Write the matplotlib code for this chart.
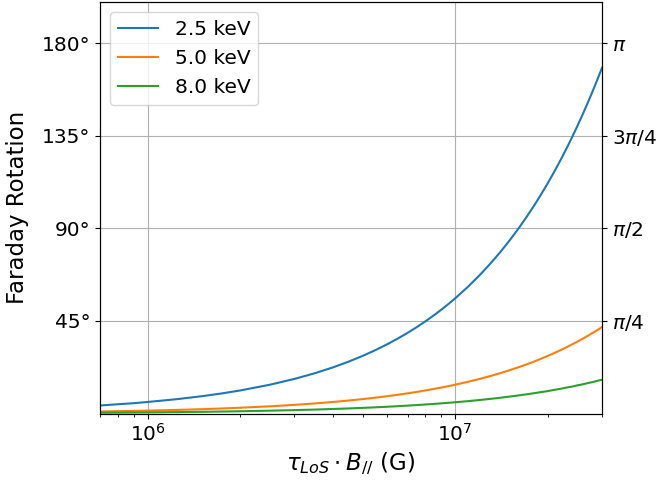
import matplotlib
matplotlib.use("Agg")
import matplotlib.pyplot as plt

# Column density x field (G) sample points
x_vals = [7.0e5, 7.5e5, 8.0e5, 9.0e5, 1.0e6, 1.25e6, 1.5e6, 1.75e6, 2.0e6, 2.5e6,
          3.0e6, 3.5e6, 4.0e6, 4.5e6, 5.0e6, 5.5e6, 6.0e6, 6.5e6, 7.0e6, 7.5e6,
          8.0e6, 8.5e6, 9.0e6, 9.5e6, 1.0e7, 1.1e7, 1.2e7, 1.3e7, 1.4e7, 1.5e7,
          1.6e7, 1.7e7, 1.8e7, 1.9e7, 2.0e7, 2.1e7, 2.2e7, 2.3e7, 2.4e7, 2.5e7,
          2.6e7, 2.7e7, 2.8e7, 2.9e7, 3.0e7]
# Faraday rotation (degrees)
rot_2p5 = [3.9, 4.2, 4.5, 5.0, 5.6, 7.0, 8.4, 9.8, 11.2, 14.0,
           16.8, 19.6, 22.4, 25.2, 28.0, 30.8, 33.6, 36.4, 39.2, 42.0,
           44.8, 47.6, 50.4, 53.2, 56.0, 61.6, 67.2, 72.8, 78.4, 84.0,
           89.6, 95.2, 100.8, 106.4, 112.0, 117.6, 123.2, 128.8, 134.4, 140.0,
           145.6, 151.2, 156.8, 162.4, 168.0]
rot_5p0 = [0.98, 1.05, 1.12, 1.26, 1.4, 1.75, 2.1, 2.45, 2.8, 3.5,
           4.2, 4.9, 5.6, 6.3, 7.0, 7.7, 8.4, 9.1, 9.8, 10.5,
           11.2, 11.9, 12.6, 13.3, 14.0, 15.4, 16.8, 18.2, 19.6, 21.0,
           22.4, 23.8, 25.2, 26.6, 28.0, 29.4, 30.8, 32.2, 33.6, 35.0,
           36.4, 37.8, 39.2, 40.6, 42.0]
rot_8p0 = [0.38, 0.41, 0.44, 0.49, 0.55, 0.68, 0.82, 0.96, 1.09, 1.37,
           1.64, 1.91, 2.19, 2.46, 2.73, 3.0, 3.28, 3.55, 3.83, 4.1,
           4.38, 4.65, 4.92, 5.2, 5.47, 6.0, 6.56, 7.1, 7.66, 8.2,
           8.75, 9.3, 9.84, 10.4, 10.9, 11.5, 12.0, 12.6, 13.1, 13.7,
           14.2, 14.8, 15.3, 15.9, 16.4]
labels = ["2.5 keV", "5.0 keV", "8.0 keV"]

left_ticks = [45, 90, 135, 180]
left_labels = ["45°", "90°", "135°", "180°"]
right_labels = [r"$\pi/4$", r"$\pi/2$", r"$3\pi/4$", r"$\pi$"]

fig = plt.figure(figsize=(6.57, 4.82), dpi=100)
ax = fig.add_axes([100/657, 1 - 413.5/482, (602-100)/657, (413.5-2)/482])

for y, lab in zip([rot_2p5, rot_5p0, rot_8p0], labels):
    ax.plot(x_vals, y, label=lab, lw=1.5)

ax.set_xscale("log")
ax.set_xlim(7e5, 3e7)
ax.set_ylim(0, 200)
ax.set_yticks(left_ticks)
ax.set_yticklabels(left_labels)
ax.tick_params(labelsize=14.5)
ax.grid(True, which="major", color="#b0b0b0", lw=0.8)
ax.set_xlabel(r"$\tau_{LoS} \cdot B_{//}$ (G)", fontsize=16.5)
ax.set_ylabel("Faraday Rotation", fontsize=16.5, labelpad=9)
ax.legend(loc="upper left", fontsize=14.5)

ax2 = ax.twinx()
ax2.set_ylim(0, 200)
ax2.set_yticks(left_ticks)
ax2.set_yticklabels(right_labels)
ax2.tick_params(labelsize=14.5)

fig.savefig("out.png", dpi=100)
